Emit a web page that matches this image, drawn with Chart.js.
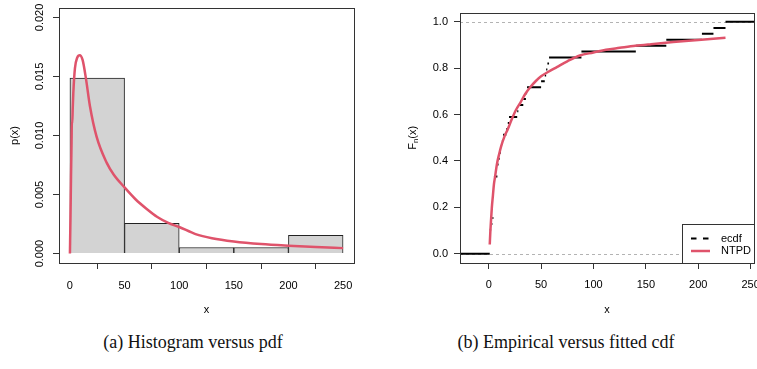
<!DOCTYPE html>
<html>
<head>
<meta charset="utf-8">
<script src="https://cdn.jsdelivr.net/npm/chart.js@4.4.1/dist/chart.umd.min.js"></script>
<style>
  body { margin: 0; background: #fff; width: 757px; height: 369px; overflow: hidden; position: relative; }
  #hist { position: absolute; left: 0; top: 0; }
  #ecdf { position: absolute; left: 379px; top: 0; }
  .cap { position: absolute; top: 331px; width: 378px; text-align: center; line-height: 22px;
         font-family: 'Liberation Serif', 'Times New Roman', serif; font-size: 18px; color: #111; }
</style>
</head>
<body>
<canvas id="hist" width="378" height="330"></canvas>
<canvas id="ecdf" width="395" height="330"></canvas>
<div class="cap" style="left:4px">(a) Histogram versus pdf</div>
<div class="cap" style="left:377px">(b) Empirical versus fitted cdf</div>

<script>
  // --- (a) histogram + fitted pdf ---
  const histBreaks = [0, 50, 100, 150, 200, 250];
  const histDensity = [0.01487, 0.00256, 0.00051, 0.00051, 0.00154];
  const pdfX = [0, 0.5, 1.0, 1.5, 1.8, 2.1, 2.6, 3.1, 4.6, 6.7, 9, 11.6, 14.7, 18.3, 24.4, 33.6, 40, 50, 60, 70,
                80, 90, 100, 115, 130, 150, 175, 200, 225, 250];
  const pdfY = [0, 0.003, 0.0065, 0.0095, 0.0112, 0.0110, 0.0124, 0.0136, 0.0157, 0.0166, 0.0168, 0.0164, 0.0148,
                0.0125, 0.0099, 0.0077, 0.0067, 0.0056, 0.0046, 0.0038, 0.0031, 0.0026, 0.00225, 0.00165, 0.0013,
                0.00102, 0.0008, 0.00066, 0.00055, 0.00046];
  const histXTicks = [0, 50, 100, 150, 200, 250];
  const histYTicks = [0, 0.005, 0.010, 0.015, 0.020];

  // --- (b) ecdf + fitted cdf ---
  const ecdfX = [1, 2.3, 3.5, 4.5, 5, 8.3, 9.4, 10.5, 11.6, 12.6, 13.7, 16.8, 18.2, 19.4, 27.2, 28.3, 33, 35.5,
                 36.6, 50, 53.5, 54.8, 56, 57.6, 88.5, 140.4, 169.5, 203.5, 214.5, 226];
  const ecdfY = [0.103, 0.128, 0.154, 0.205, 0.333, 0.385, 0.410, 0.436, 0.462, 0.487, 0.513, 0.538, 0.564, 0.590,
                 0.615, 0.641, 0.667, 0.692, 0.718, 0.744, 0.769, 0.795, 0.820, 0.846, 0.872, 0.897, 0.923, 0.949,
                 0.974, 1.0];
  const cdfX = [1, 1.5, 2, 3, 4, 5, 6, 8, 10, 12, 15, 18, 22, 26, 30, 35, 40, 45, 50, 57, 65, 75, 87, 100, 112,
                125, 140, 155, 176, 200, 226];
  const cdfY = [0.04, 0.09, 0.13, 0.20, 0.25, 0.30, 0.33, 0.39, 0.43, 0.465, 0.505, 0.535, 0.58, 0.62, 0.65, 0.69,
                0.72, 0.745, 0.765, 0.785, 0.805, 0.83, 0.855, 0.868, 0.88, 0.888, 0.897, 0.904, 0.913, 0.922, 0.932];
  const ecdfXTicks = [0, 50, 100, 150, 200, 250];
  const ecdfYTicks = [0, 0.2, 0.4, 0.6, 0.8, 1.0];

  const RED = '#DF536B';
  const FAMILY = "'Liberation Sans', Arial, Helvetica, sans-serif";
  const FONT = { family: FAMILY, size: 11 };

  // R-style box around the plot region
  const boxPlugin = {
    id: 'box',
    afterDraw(chart) {
      const a = chart.chartArea, ctx = chart.ctx;
      ctx.save();
      ctx.strokeStyle = '#333';
      ctx.lineWidth = 1;
      ctx.strokeRect(Math.round(a.left) + 0.5, Math.round(a.top) + 0.5,
                     Math.round(a.right - a.left), Math.round(a.bottom - a.top));
      ctx.restore();
    }
  };

  function tickGrid() {
    return { drawOnChartArea: false, drawTicks: true, tickLength: 6, color: '#333', lineWidth: 1 };
  }

  // ---------- chart (a) ----------
  const histBars = histDensity.map((d, i) => ({ x: (histBreaks[i] + histBreaks[i + 1]) / 2, y: d }));
  const pdfPts = pdfX.map((x, i) => ({ x: x, y: pdfY[i] }));

  const histYLabels = {
    id: 'histYLabels',
    afterDraw(chart) {
      const y = chart.scales.y, ctx = chart.ctx;
      ctx.save();
      ctx.font = '11px ' + FAMILY;
      ctx.fillStyle = '#000';
      ctx.textAlign = 'center';
      ctx.textBaseline = 'middle';
      histYTicks.forEach(v => {
        ctx.save();
        ctx.translate(40, y.getPixelForValue(v));
        ctx.rotate(-Math.PI / 2);
        ctx.fillText(v.toFixed(3), 0, 0);
        ctx.restore();
      });
      ctx.restore();
    }
  };

  new Chart(document.getElementById('hist').getContext('2d'), {
    data: {
      datasets: [
        {
          type: 'line', data: pdfPts, borderColor: RED, borderWidth: 2.5, pointRadius: 0,
          cubicInterpolationMode: 'monotone', order: 0
        },
        {
          type: 'bar', data: histBars, backgroundColor: '#D3D3D3', borderColor: '#222', borderWidth: 1,
          barPercentage: 1, categoryPercentage: 1, order: 1
        }
      ]
    },
    options: {
      responsive: false, animation: false, devicePixelRatio: 1,
      layout: { padding: { top: 8, right: 24, left: 0, bottom: 0 } },
      plugins: { legend: { display: false }, tooltip: { enabled: false } },
      scales: {
        x: {
          type: 'linear', min: -10, max: 260, offset: false,
          afterBuildTicks: s => { s.ticks = histXTicks.map(v => ({ value: v })); },
          afterFit: s => { s.height = 67; },
          grid: tickGrid(), border: { display: false },
          ticks: { font: FONT, color: '#000', padding: 10, maxRotation: 0, autoSkip: false },
          title: { display: true, text: 'x', font: FONT, color: '#000', padding: { top: 0, bottom: 13 } }
        },
        y: {
          type: 'linear', min: -0.0008, max: 0.0208,
          afterBuildTicks: s => { s.ticks = histYTicks.map(v => ({ value: v })); },
          afterFit: s => { s.width = 59; },
          grid: tickGrid(), border: { display: false },
          ticks: { display: false },
          title: { display: true, text: 'p(x)', font: FONT, color: '#000', padding: { top: 8, bottom: 0 } }
        }
      }
    },
    plugins: [boxPlugin, histYLabels]
  });

  // ---------- chart (b) ----------
  const X_MIN = -27.4, X_MAX = 253.2;
  const stepPts = [{ x: X_MIN, y: 0 }, { x: ecdfX[0], y: 0 }, { x: ecdfX[0], y: null }];
  ecdfX.forEach((x, i) => {
    const xEnd = i + 1 < ecdfX.length ? ecdfX[i + 1] : X_MAX;
    stepPts.push({ x: x, y: ecdfY[i] }, { x: xEnd, y: ecdfY[i] }, { x: xEnd, y: null });
  });
  const cdfPts = cdfX.map((x, i) => ({ x: x, y: cdfY[i] }));

  const ecdfExtras = {
    id: 'ecdfExtras',
    beforeDatasetsDraw(chart) {
      // gray dashed reference lines at 0 and 1
      const a = chart.chartArea, y = chart.scales.y, ctx = chart.ctx;
      ctx.save();
      ctx.strokeStyle = '#B3B3B3';
      ctx.lineWidth = 1;
      ctx.setLineDash([3, 3]);
      [0, 1].forEach(v => {
        const py = Math.round(y.getPixelForValue(v)) + 0.5;
        ctx.beginPath(); ctx.moveTo(a.left, py); ctx.lineTo(a.right, py); ctx.stroke();
      });
      ctx.restore();
    },
    afterDraw(chart) {
      const a = chart.chartArea, ctx = chart.ctx;
      ctx.save();
      // legend, bottom right
      const lw = 72, lh = 39;
      const lx = Math.round(a.right) - lw, ly = Math.round(a.bottom) - lh;
      ctx.fillStyle = '#fff';
      ctx.fillRect(lx, ly, lw, lh);
      ctx.strokeStyle = '#333';
      ctx.lineWidth = 1;
      ctx.strokeRect(lx + 0.5, ly + 0.5, lw, lh);
      ctx.strokeStyle = '#000';
      ctx.lineWidth = 2;
      ctx.setLineDash([5.5, 6.5]);
      ctx.beginPath(); ctx.moveTo(lx + 9, ly + 14.5); ctx.lineTo(lx + 28, ly + 14.5); ctx.stroke();
      ctx.setLineDash([]);
      ctx.strokeStyle = RED;
      ctx.lineWidth = 2.5;
      ctx.beginPath(); ctx.moveTo(lx + 9, ly + 27); ctx.lineTo(lx + 28, ly + 27); ctx.stroke();
      ctx.fillStyle = '#000';
      ctx.font = '11px ' + FAMILY;
      ctx.textAlign = 'left';
      ctx.textBaseline = 'middle';
      ctx.fillText('ecdf', lx + 39, ly + 14.5);
      ctx.fillText('NTPD', lx + 39, ly + 27);

      // y-axis title F_n(x), rotated
      ctx.translate(34, (a.top + a.bottom) / 2);
      ctx.rotate(-Math.PI / 2);
      const wF = ctx.measureText('F').width;
      ctx.font = '8px ' + FAMILY;
      const wn = ctx.measureText('n').width;
      ctx.font = '11px ' + FAMILY;
      const wx = ctx.measureText('(x)').width;
      let sx = -(wF + wn + wx) / 2;
      ctx.fillText('F', sx, 0);
      ctx.font = '8px ' + FAMILY;
      ctx.fillText('n', sx + wF, 3);
      ctx.font = '11px ' + FAMILY;
      ctx.fillText('(x)', sx + wF + wn, 0);
      ctx.restore();
    }
  };

  new Chart(document.getElementById('ecdf').getContext('2d'), {
    type: 'line',
    data: {
      datasets: [
        {
          data: cdfPts, borderColor: RED, borderWidth: 2.5, pointRadius: 0,
          cubicInterpolationMode: 'monotone', order: 0
        },
        {
          data: stepPts, borderColor: '#000', borderWidth: 2, pointRadius: 0, spanGaps: false,
          tension: 0, order: 1
        }
      ]
    },
    options: {
      responsive: false, animation: false, devicePixelRatio: 1,
      layout: { padding: { top: 8, right: 20, left: 0, bottom: 0 } },
      plugins: { legend: { display: false }, tooltip: { enabled: false } },
      scales: {
        x: {
          type: 'linear', min: X_MIN, max: X_MAX,
          afterBuildTicks: s => { s.ticks = ecdfXTicks.map(v => ({ value: v })); },
          afterFit: s => { s.height = 67; },
          grid: tickGrid(), border: { display: false },
          ticks: { font: FONT, color: '#000', padding: 9, maxRotation: 0, autoSkip: false },
          title: { display: true, text: 'x', font: FONT, color: '#000', padding: { top: 0, bottom: 13 } }
        },
        y: {
          type: 'linear', min: -0.04, max: 1.04,
          afterBuildTicks: s => { s.ticks = ecdfYTicks.map(v => ({ value: v })); },
          afterFit: s => { s.width = 81; },
          grid: tickGrid(), border: { display: false },
          ticks: { font: FONT, color: '#000', padding: 6, callback: v => v.toFixed(1) }
        }
      }
    },
    plugins: [boxPlugin, ecdfExtras]
  });
</script>
</body>
</html>
